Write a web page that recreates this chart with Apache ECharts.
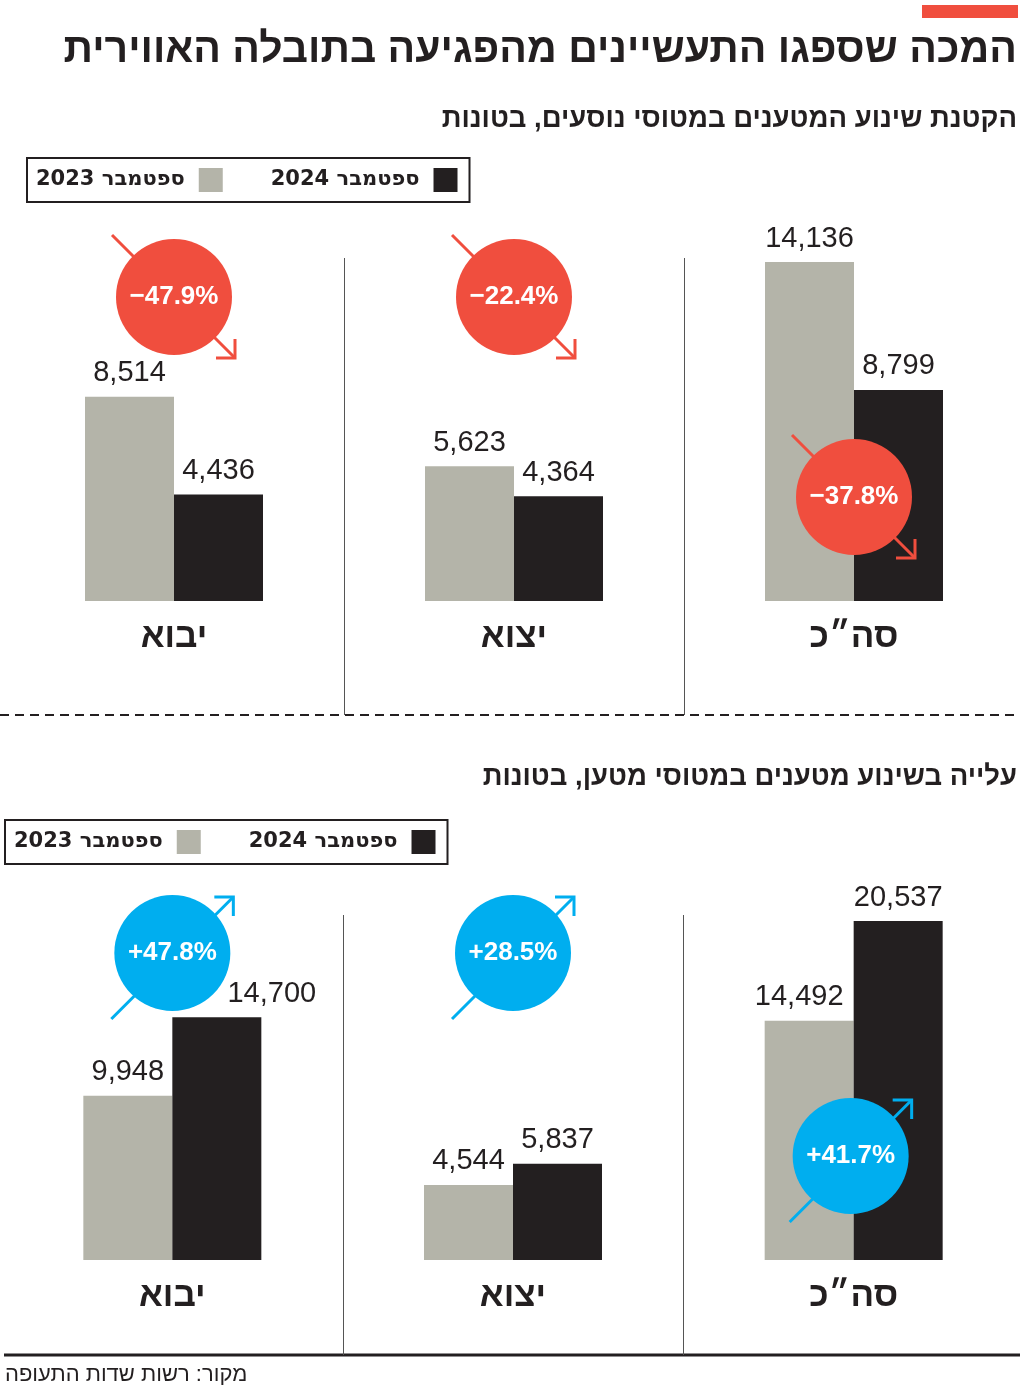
<!DOCTYPE html>
<html>
<head>
<meta charset="utf-8">
<style>
  body { margin: 0; background: #fff; }
  #main { width: 1024px; height: 1390px; }
</style>
</head>
<body>
<div id="main"></div>
<script src="https://cdn.jsdelivr.net/npm/echarts@6/dist/echarts.min.js"></script>
<script>
// --- data ---
var categories = ['יבוא', 'יצוא', 'סה״כ'];
var seriesNames = ['ספטמבר 2023', 'ספטמבר 2024'];

// passenger planes, tons
var passenger2023 = [8514, 5623, 14136];
var passenger2024 = [4436, 4364, 8799];
var passengerChange = ['−47.9%', '−22.4%', '−37.8%'];

// cargo planes, tons
var cargo2023 = [9948, 4544, 14492];
var cargo2024 = [14700, 5837, 20537];
var cargoChange = ['+47.8%', '+28.5%', '+41.7%'];

var titleText = 'המכה שספגו התעשיינים מהפגיעה בתובלה האווירית';
var sub1Text = 'הקטנת שינוע המטענים במטוסי נוסעים';
var sub2Text = 'עלייה בשינוע מטענים במטוסי מטען';
var unitText = 'בטונות';
var sourceText = 'מקור: רשות שדות התעופה';

// --- styles ---
var GRAY = '#b4b4a9', BLACK = '#231f20', RED = '#f04e3e', BLUE = '#00aeef';
var HEB = "'Liberation Sans', 'DejaVu Sans', sans-serif";
var NUM = "'Liberation Sans', sans-serif";
var LEG = "'DejaVu Sans', sans-serif";

var myChart = echarts.init(document.getElementById('main'));

function fmt(p) {
    return p.value.toLocaleString('en-US');
}

// a couple of value labels are nudged sideways so the badges don't cover them
function barSeries(name, values, color, idx, shifts) {
    var data = values.map(function (v, i) {
        var item = { value: v };
        if (shifts && shifts[i]) item.label = { offset: [shifts[i], 0] };
        return item;
    });
    return {
        name: name,
        type: 'bar',
        xAxisIndex: idx,
        yAxisIndex: idx,
        data: data,
        barWidth: 89,
        barGap: '0%',
        itemStyle: { color: color },
        label: {
            show: true,
            position: 'top',
            distance: 9,
            formatter: fmt,
            color: BLACK,
            fontSize: 29,
            fontFamily: NUM
        }
    };
}

function legendBox(left, top) {
    return {
        data: seriesNames,
        left: left,
        top: top,
        align: 'right',
        icon: 'rect',
        itemWidth: 24,
        itemHeight: 24,
        itemGap: 48,
        padding: [10, 12, 10, 9],
        borderColor: BLACK,
        borderWidth: 2,
        selectedMode: false,
        textStyle: {
            color: BLACK,
            fontSize: 21,
            fontWeight: 'bold',
            fontFamily: LEG,
            padding: [0, 9, 0, 0]
        }
    };
}

function catAxis(idx) {
    return {
        type: 'category',
        gridIndex: idx,
        data: categories,
        axisLine: { show: false },
        axisTick: { show: false },
        axisLabel: {
            margin: 19,
            color: BLACK,
            fontSize: 35,
            fontWeight: 'bold',
            fontFamily: HEB
        }
    };
}

function valAxis(idx) {
    return {
        type: 'value',
        gridIndex: idx,
        show: false,
        min: 0,
        max: 'dataMax'
    };
}

function subtitle(text, top) {
    return {
        // rich segments run left to right, so the unit goes first
        text: '{u|' + unitText + ' }{b|,}{b|' + text + '}',
        right: 7,
        top: top,
        padding: 0,
        textStyle: {
            rich: {
                b: { fontSize: 27.5, fontWeight: 'bold', fontFamily: HEB, color: BLACK },
                u: { fontSize: 27.5, fontFamily: NUM, color: BLACK }
            }
        }
    };
}

var option = {
    animation: false,
    backgroundColor: '#fff',
    title: [
        {
            text: titleText,
            right: 7,
            top: 30,
            padding: 0,
            textStyle: { fontSize: 41, fontWeight: 'bold', fontFamily: HEB, color: BLACK }
        },
        subtitle(sub1Text, 105),
        subtitle(sub2Text, 763),
        {
            text: sourceText,
            left: 5,
            top: 1364,
            padding: 0,
            textStyle: { fontSize: 22, fontWeight: 'normal', fontFamily: NUM, color: BLACK }
        }
    ],
    legend: [legendBox(27, 158), legendBox(5, 820)],
    grid: [
        { left: 4, top: 262, width: 1023, height: 339 },
        { left: 2, top: 921, width: 1023, height: 339 }
    ],
    xAxis: [catAxis(0), catAxis(1)],
    yAxis: [valAxis(0), valAxis(1)],
    series: [
        barSeries(seriesNames[0], passenger2023, GRAY, 0),
        barSeries(seriesNames[1], passenger2024, BLACK, 0),
        barSeries(seriesNames[0], cargo2023, GRAY, 1, [0, 0, -10]),
        barSeries(seriesNames[1], cargo2024, BLACK, 1, [55, 0, 0])
    ]
};

myChart.setOption(option);

// --- decorations: dividers, separators, change badges ---
var graphics = [];

graphics.push({
    type: 'rect', shape: { x: 922, y: 5, width: 96, height: 13 },
    style: { fill: RED }
});

// dashed separator between the two charts
graphics.push({
    type: 'line', shape: { x1: 0, y1: 715, x2: 1020, y2: 715 },
    style: { stroke: BLACK, lineWidth: 2, lineDash: [9, 6] }
});
// bottom rule
graphics.push({
    type: 'line', shape: { x1: 4, y1: 1355, x2: 1020, y2: 1355 },
    style: { stroke: BLACK, lineWidth: 3 }
});

function dividers(gridIdx, y1, y2) {
    var c0 = myChart.convertToPixel({ gridIndex: gridIdx }, [0, 0])[0];
    var c1 = myChart.convertToPixel({ gridIndex: gridIdx }, [1, 0])[0];
    var step = c1 - c0;
    for (var i = 1; i < categories.length; i++) {
        var x = Math.round(c0 + step * (i - 0.5)) + 0.5;
        graphics.push({
            type: 'line', shape: { x1: x, y1: y1, x2: x, y2: y2 },
            style: { stroke: '#555', lineWidth: 1 }
        });
    }
}
dividers(0, 258, 715);
dividers(1, 915, 1355);

function badge(cx, cy, text, up) {
    var color = up ? BLUE : RED;
    var r = 58, head = 19;
    var tail, tip, arrowHead;
    if (up) {
        tail = [cx - 61, cy + 66];
        tip = [cx + 61, cy - 56];
        arrowHead = [[tip[0] - head, tip[1]], tip, [tip[0], tip[1] + head]];
    } else {
        tail = [cx - 62, cy - 62];
        tip = [cx + 61, cy + 61];
        arrowHead = [[tip[0] - head, tip[1]], tip, [tip[0], tip[1] - head]];
    }
    graphics.push({
        type: 'line', z: 100,
        shape: { x1: tail[0], y1: tail[1], x2: tip[0], y2: tip[1] },
        style: { stroke: color, lineWidth: 3 }
    });
    graphics.push({
        type: 'polyline', z: 100,
        shape: { points: arrowHead },
        style: { stroke: color, lineWidth: 3, fill: null }
    });
    graphics.push({
        type: 'circle', z: 101,
        shape: { cx: cx, cy: cy, r: r },
        style: { fill: color }
    });
    graphics.push({
        type: 'text', z: 102,
        x: cx, y: cy,
        style: {
            text: text,
            align: 'center',
            verticalAlign: 'middle',
            fill: '#fff',
            fontSize: 26,
            fontWeight: 'bold',
            fontFamily: HEB
        }
    });
}

var topBadgeY = [297, 297, 497];
var bottomBadgeY = [953, 953, 1156];
for (var i = 0; i < categories.length; i++) {
    var xt = myChart.convertToPixel({ gridIndex: 0 }, [i, 0])[0];
    badge(xt, topBadgeY[i], passengerChange[i], false);
    var xb = myChart.convertToPixel({ gridIndex: 1 }, [i, 0])[0];
    badge(xb - (i === 2 ? 3 : 0), bottomBadgeY[i], cargoChange[i], true);
}

myChart.setOption({ graphic: graphics });
</script>
</body>
</html>
